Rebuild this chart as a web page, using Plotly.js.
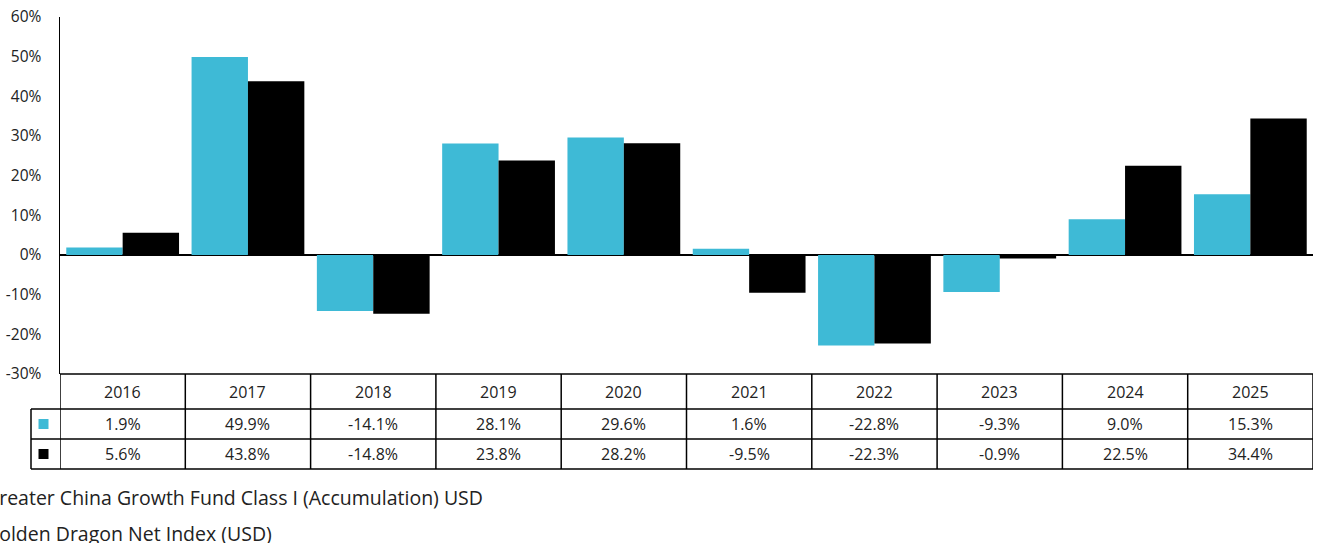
<!DOCTYPE html>
<html>
<head>
<meta charset="utf-8">
<script src="https://cdn.plot.ly/plotly-3.0.1.min.js"></script>
<style>html,body{margin:0;padding:0;background:#fff;} #chart{width:1320px;height:543px;}</style>
</head>
<body>
<div id="chart"></div>
<script>
const years = ["2016","2017","2018","2019","2020","2021","2022","2023","2024","2025"];
const fundName = "Greater China Growth Fund Class I (Accumulation) USD";
const indexName = "Golden Dragon Net Index (USD)";
const fundValues = [1.9, 49.9, -14.1, 28.1, 29.6, 1.6, -22.8, -9.3, 9.0, 15.3];
const indexValues = [5.6, 43.8, -14.8, 23.8, 28.2, -9.5, -22.3, -0.9, 22.5, 34.4];
const yTicks = [-30, -20, -10, 0, 10, 20, 30, 40, 50, 60];

const cyan = "#3EBAD6";
const black = "#000000";
const FONT = "Open Sans, sans-serif";

const traces = [
  {type:"bar", name:fundName, x:years, y:fundValues, marker:{color:cyan}, hoverinfo:"skip"},
  {type:"bar", name:indexName, x:years, y:indexValues, marker:{color:black}, hoverinfo:"skip"}
];

const shapes = [];
const annotations = [];
const lineStyle = {color:"#000", width:1.5};
const rowOff = [0, -35, -65, -95];   // pixel offsets of table row boundaries below plot bottom
const n = years.length;

// horizontal lines spanning categories
rowOff.forEach(off => {
  shapes.push({type:"line", xref:"x", yref:"paper", ysizemode:"pixel", yanchor:0,
    x0:-0.5, x1:n-0.5, y0:off, y1:off, line:lineStyle});
});
// marker column (left of the plot area) — paper-referenced so it isn't clipped
const pshape = o => Object.assign({xref:"paper", xsizemode:"pixel", xanchor:0, yref:"paper", ysizemode:"pixel", yanchor:0}, o);
[-35, -65, -95].forEach(off => {
  shapes.push(pshape({type:"line", x0:-29, x1:0, y0:off, y1:off, line:lineStyle}));
});
shapes.push(pshape({type:"line", x0:-29, x1:-29, y0:-35, y1:-95, line:lineStyle}));
[[cyan, -50], [black, -80]].forEach(([c, yc]) => {
  shapes.push(pshape({type:"rect", x0:-21.5, x1:-11.5, y0:yc-5, y1:yc+5, fillcolor:c, line:{width:0}}));
});
// vertical lines between categories
for (let i = 0; i <= n; i++) {
  shapes.push({type:"line", xref:"x", yref:"paper", ysizemode:"pixel", yanchor:0,
    x0:i-0.5, x1:i-0.5, y0:0, y1:-95, line:lineStyle});
}

// table texts
const fmt = v => v.toFixed(1) + "%";
years.forEach((yr, i) => {
  annotations.push({x:i, xref:"x", y:0, yref:"paper", yshift:-17.5, yanchor:"middle", xanchor:"center",
    text:yr, showarrow:false, font:{family:FONT, size:16, color:"#222"}});
  annotations.push({x:i, xref:"x", y:0, yref:"paper", yshift:-50, yanchor:"middle", xanchor:"center",
    text:fmt(fundValues[i]), showarrow:false, font:{family:FONT, size:16, color:"#222"}});
  annotations.push({x:i, xref:"x", y:0, yref:"paper", yshift:-80, yanchor:"middle", xanchor:"center",
    text:fmt(indexValues[i]), showarrow:false, font:{family:FONT, size:16, color:"#222"}});
});
// legend texts (cut off at left edge like in the reference)
annotations.push({x:0, xref:"paper", xshift:-77, xanchor:"left", y:0, yref:"paper", yshift:-123, yanchor:"middle",
  text:fundName, showarrow:false, font:{family:FONT, size:19.5, color:"#222"}});
annotations.push({x:0, xref:"paper", xshift:-77, xanchor:"left", y:0, yref:"paper", yshift:-159, yanchor:"middle",
  text:indexName, showarrow:false, font:{family:FONT, size:19.5, color:"#222"}});

const layout = {
  width:1320, height:543,
  margin:{l:60, r:7, t:17, b:169},
  paper_bgcolor:"#fff", plot_bgcolor:"#fff",
  barmode:"group", bargap:0.1, bargroupgap:0,
  showlegend:false,
  xaxis:{type:"category", showticklabels:false, showgrid:false, zeroline:false, showline:false, ticks:"", range:[-0.5, n-0.5]},
  yaxis:{range:[-30, 60], tickvals:yTicks, ticktext:yTicks.map(v => v + "%"), showgrid:false,
    zeroline:true, zerolinecolor:"#000", zerolinewidth:1.5,
    showline:true, linecolor:"#000", linewidth:1.5, ticks:"", ticklabelstandoff:14,
    tickfont:{family:FONT, size:15.5, color:"#222"}},
  shapes:shapes,
  annotations:annotations,
  font:{family:FONT}
};

Plotly.newPlot("chart", traces, layout, {displayModeBar:false, staticPlot:true});
</script>
</body>
</html>
